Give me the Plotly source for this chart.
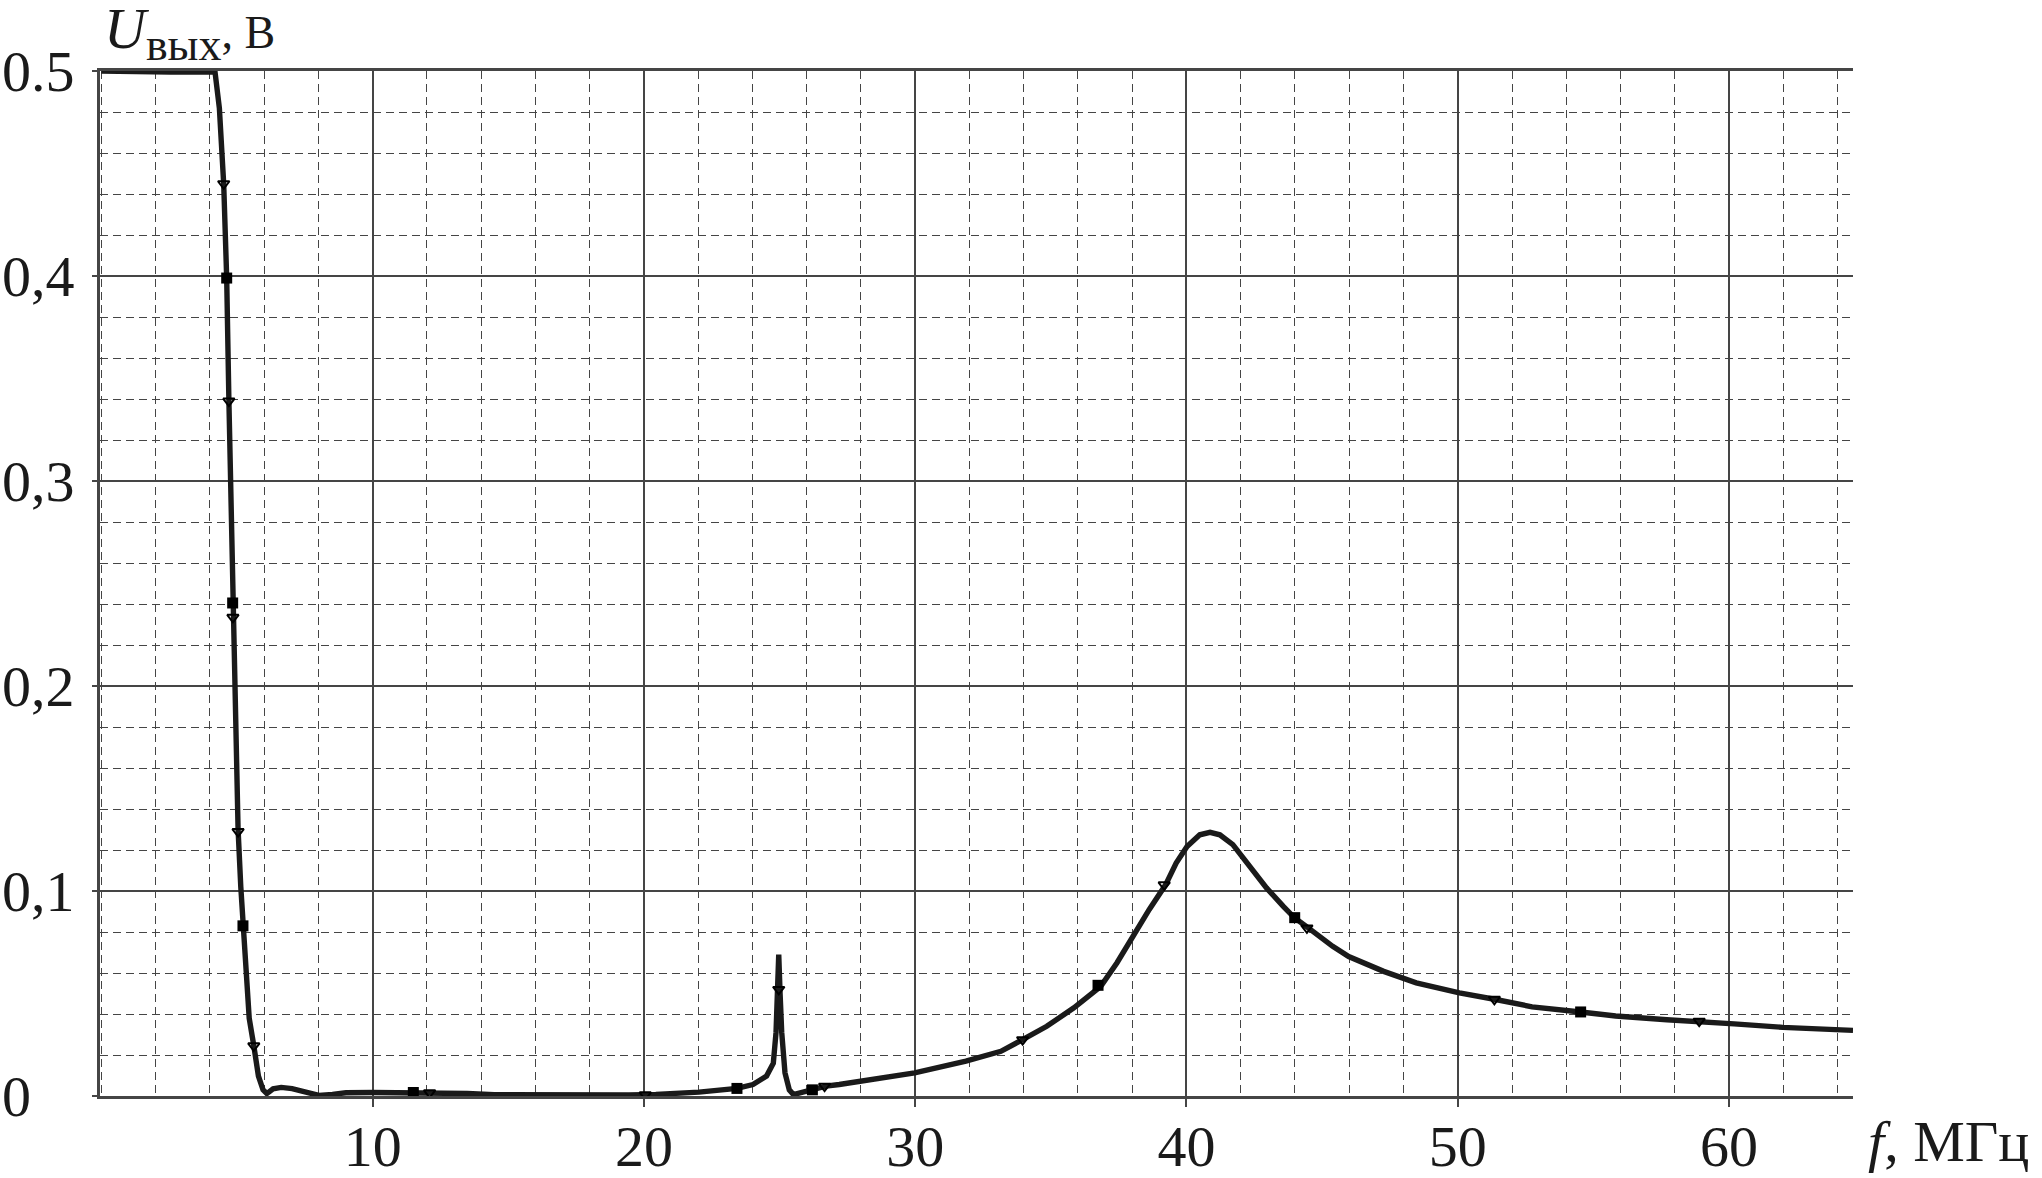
import plotly.graph_objects as go

# ---- data ----
freq_mhz = [0.0, 1.56, 2.56, 3.55, 4.05, 4.19, 4.35, 4.45, 4.51, 4.57, 4.62, 4.70, 4.79, 4.85,
            4.94, 5.04, 5.14, 5.22, 5.35, 5.45, 5.62, 5.79, 5.96, 6.10, 6.33, 6.63, 7.03, 7.53,
            8.02, 8.52, 9.02, 10.01, 11.0, 12.0, 13.49, 14.48, 15.97, 17.96, 19.45, 20.44, 22.03,
            23.43, 24.02, 24.52, 24.77, 24.87, 24.94, 24.97, 25.02, 25.08, 25.2, 25.36, 25.51,
            25.87, 26.21, 26.71, 27.2, 28.49, 29.98, 31.87, 33.16, 33.96, 34.85, 35.85, 36.84,
            37.44, 38.03, 38.63, 39.23, 39.62, 40.02, 40.49, 40.87, 41.23, 41.71, 42.31, 42.95,
            43.57, 43.99, 44.49, 45.39, 45.98, 47.27, 48.47, 50.06, 51.35, 52.74, 54.53, 55.82,
            57.71, 58.8, 60.19, 61.98, 64.57]
u_out_v = [0.5, 0.4993, 0.4995, 0.4995, 0.5, 0.4995, 0.482, 0.463, 0.445, 0.42, 0.399, 0.34, 0.28,
           0.237, 0.18, 0.13, 0.102, 0.083, 0.060, 0.038, 0.0245, 0.0097, 0.003, 0.0012, 0.0035,
           0.0042, 0.0036, 0.0022, 0.0003, 0.0008, 0.0016, 0.0017, 0.0017, 0.0016, 0.0012, 0.0006,
           0.0004, 0.0004, 0.0005, 0.0008, 0.0019, 0.0037, 0.0056, 0.0097, 0.016, 0.031, 0.055,
           0.069, 0.05, 0.031, 0.0113, 0.003, 0.0007, 0.0019, 0.003, 0.0048, 0.0056, 0.008,
           0.0113, 0.017, 0.0218, 0.0275, 0.034, 0.043, 0.0535, 0.065, 0.078, 0.091, 0.103, 0.1136,
           0.1217, 0.1274, 0.1286, 0.1274, 0.1226, 0.1128, 0.1015, 0.0925, 0.0868, 0.082, 0.073,
           0.068, 0.0608, 0.0552, 0.0503, 0.0472, 0.0435, 0.0410, 0.0390, 0.0372, 0.0365, 0.0352,
           0.0335, 0.0320]

square_x = [4.62, 4.84, 5.22, 11.5, 23.43, 26.21, 36.74, 43.99, 54.53]
square_y = [0.399, 0.2405, 0.083, 0.0017, 0.0037, 0.003, 0.054, 0.087, 0.0410]
tri_x = [4.51, 4.70, 4.85, 5.04, 5.62, 12.1, 20.05, 24.97, 26.66, 33.96, 39.18, 44.44, 51.35, 58.9]
tri_y = [0.445, 0.339, 0.2335, 0.129, 0.0245, 0.0016, 0.0006, 0.052, 0.0048, 0.0275, 0.103,
         0.082, 0.0472, 0.0365]

x_tick_vals = [10, 20, 30, 40, 50, 60]
x_tick_text = ["10", "20", "30", "40", "50", "60"]
y_tick_vals = [0.5, 0.4, 0.3, 0.2, 0.1, 0.0]
y_tick_text = ["0.5", "0,4", "0,3", "0,2", "0,1", "0"]

y_title = ('<i>U</i><sub><span style="font-size:46px">вых</span></sub>'
           '<span style="font-size:46px">, В</span>')
x_title = "<i>f</i>, МГц"

# ---- figure ----
W, H = 2042, 1178
ML, MR, MT, MB = 100, 189, 71, 82
PW, PH = W - ML - MR, H - MT - MB
FONT = "Liberation Serif, Times New Roman, serif"
INK = "#1a1a1a"
GRID = "#454545"
FS = 58

fig = go.Figure()
fig.add_trace(go.Scatter(x=freq_mhz, y=u_out_v, mode="lines",
                         line=dict(color=INK, width=5.4), hoverinfo="skip"))
fig.add_trace(go.Scatter(x=square_x, y=square_y, mode="markers",
                         marker=dict(symbol="square", size=11, color="#000000",
                                     line=dict(width=0))))
fig.add_trace(go.Scatter(x=tri_x, y=tri_y, mode="markers",
                         marker=dict(symbol="triangle-down-open", size=10, color="#000000",
                                     line=dict(width=2))))

fig.update_layout(
    width=W, height=H,
    margin=dict(l=ML, r=MR, t=MT, b=MB, pad=0, autoexpand=False),
    paper_bgcolor="white", plot_bgcolor="white",
    showlegend=False,
    font=dict(family=FONT, size=FS, color=INK),
)

fig.update_xaxes(
    range=[-0.05, 64.57], automargin=False,
    tickmode="array", tickvals=x_tick_vals, ticktext=x_tick_text,
    ticks="outside", ticklen=8, tickwidth=1.5, tickcolor=GRID,
    ticklabelstandoff=-10,
    showgrid=True, gridcolor=GRID, gridwidth=1.8,
    minor=dict(tick0=0, dtick=2, showgrid=True, gridcolor=GRID, gridwidth=1.4,
               griddash="8px,5px", ticks=""),
    showline=True, linecolor=GRID, linewidth=2.6, mirror=True,
    zeroline=False,
    tickfont=dict(family=FONT, size=FS, color=INK),
)
fig.update_yaxes(
    range=[0, 0.5], automargin=False,
    tick0=0, dtick=0.1,
    ticks="outside", ticklen=5, tickwidth=1.5, tickcolor=GRID,
    showticklabels=False,
    showgrid=True, gridcolor=GRID, gridwidth=1.8,
    minor=dict(tick0=0, dtick=0.02, showgrid=True, gridcolor=GRID, gridwidth=1.4,
               griddash="8px,5px", ticks=""),
    showline=True, linecolor=GRID, linewidth=2.6,
    zeroline=False,
)

# left-aligned y tick labels
for v, t in zip(y_tick_vals, y_tick_text):
    fig.add_annotation(x=(0 - ML) / PW, xref="paper", y=v, yref="y", text=t,
                       showarrow=False, xanchor="left", yanchor="middle",
                       font=dict(family=FONT, size=FS, color=INK))

fig.add_annotation(x=(102 - ML) / PW, xref="paper", y=1 + (MT - 33) / PH, yref="paper",
                   text=y_title, showarrow=False, xanchor="left", yanchor="middle",
                   font=dict(family=FONT, size=FS, color=INK))
fig.add_annotation(x=(1866 - ML) / PW, xref="paper", y=-(1141 - (H - MB)) / PH, yref="paper",
                   text=x_title, showarrow=False, xanchor="left", yanchor="middle",
                   font=dict(family=FONT, size=FS, color=INK))

fig.write_html("out.html", config={"displayModeBar": False},
               post_script="document.body.style.margin='0';document.body.style.overflow='hidden';")
